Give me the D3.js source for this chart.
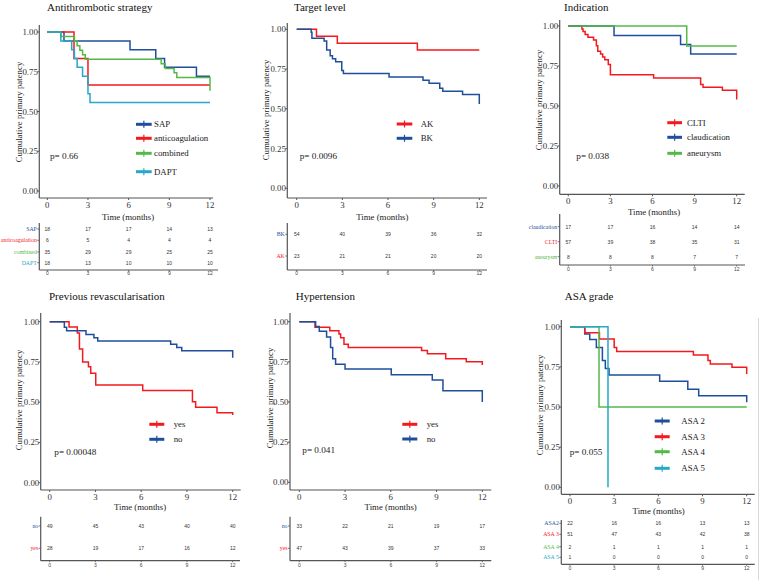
<!DOCTYPE html>
<html><head><meta charset="utf-8">
<script src="https://cdn.jsdelivr.net/npm/d3@7"></script>
<style>body{margin:0;background:#fff}svg{display:block}</style>
</head><body>
<svg id="c" width="761" height="580"></svg>
<script>
// ---------- DATA ----------
const timeTicks = [0, 3, 6, 9, 12];
const survTicks = [0, 0.25, 0.5, 0.75, 1];
const tickLabels = ["0.00", "0.25", "0.50", "0.75", "1.00"];
const panelTitles = ["Antithrombotic strategy", "Target level", "Indication", "Previous revascularisation", "Hypertension", "ASA grade"];
const pValues = ["p= 0.66", "p= 0.0096", "p= 0.038", "p= 0.00048", "p= 0.041", "p= 0.055"];

// Panel 1: antithrombotic strategy
const groups1 = ["SAP", "anticoagulation", "combined", "DAPT"];
const curveSAP = [[0,1],[1.23,0.944],[6.1,0.889],[8.0,0.833],[8.65,0.778],[11.0,0.722],[12,0.722]];
const curveAnticoag = [[0,1],[1.97,0.833],[3.0,0.667],[12,0.667]];
const curveCombined = [[0,1],[1.0,0.971],[2.0,0.943],[2.2,0.914],[2.4,0.886],[2.6,0.857],[2.8,0.829],[8.4,0.80],[8.7,0.771],[9.35,0.743],[9.55,0.714],[12,0.63]];
const curveDAPT = [[0,1],[1.0,0.944],[1.8,0.889],[2.0,0.833],[2.2,0.778],[2.6,0.722],[3.0,0.611],[3.15,0.556],[12,0.556]];
const riskSAP = [18, 17, 17, 14, 13];
const riskAnticoag = [6, 5, 4, 4, 4];
const riskCombined = [35, 29, 29, 25, 25];
const riskDAPT = [18, 13, 10, 10, 10];

// Panel 2: target level
const groups2 = ["AK", "BK"];
const curveAK = [[0,1],[1.3,0.957],[2.67,0.913],[7.93,0.87],[12,0.87]];
const curveBK = [[0,1],[0.95,0.981],[1.0,0.944],[1.8,0.926],[1.97,0.87],[2.2,0.833],[2.35,0.815],[2.56,0.796],[2.96,0.741],[3.07,0.722],[6.07,0.70],[8.3,0.68],[8.7,0.66],[9.4,0.63],[9.6,0.61],[10.9,0.59],[12,0.53]];
const riskTableRows2 = ["BK", "AK"];
const riskBK = [54, 40, 39, 36, 32];
const riskAK = [23, 21, 21, 20, 20];

// Panel 3: indication
const groups3 = ["CLTI", "claudication", "aneurysm"];
const curveCLTI = [[0,1],[0.97,0.982],[1.05,0.965],[1.2,0.947],[1.4,0.93],[1.8,0.912],[2.0,0.877],[2.1,0.842],[2.3,0.825],[2.45,0.807],[2.6,0.789],[2.85,0.76],[3.0,0.695],[6.08,0.675],[9.43,0.635],[9.6,0.617],[10.98,0.598],[12,0.54]];
const curveClaud = [[0,1],[3.26,0.941],[8.0,0.885],[8.72,0.825],[12,0.825]];
const curveAneur = [[0,1],[8.44,0.875],[12,0.875]];
const riskTableRows3 = ["claudication", "CLTI", "aneurysm"];
const riskClaud = [17, 17, 16, 14, 14];
const riskCLTI = [57, 39, 38, 35, 31];
const riskAneur = [8, 8, 8, 7, 7];

// Panel 4: previous revascularisation
const groups4 = ["yes", "no"];
const curveRevYes = [[0,1],[1.27,0.967],[1.81,0.93],[1.95,0.83],[2.16,0.75],[2.54,0.72],[2.69,0.68],[3.02,0.607],[6.1,0.573],[9.36,0.503],[9.57,0.469],[10.97,0.435],[12,0.42]];
const curveRevNo = [[0,1],[0.96,0.965],[1.11,0.944],[2.38,0.92],[2.9,0.90],[3.15,0.88],[7.93,0.86],[8.33,0.84],[8.66,0.82],[12,0.776]];
const riskTableRows4 = ["no", "yes"];
const riskRevNo = [49, 45, 43, 40, 40];
const riskRevYes = [28, 19, 17, 16, 12];

// Panel 5: hypertension
const groups5 = ["yes", "no"];
const curveHtYes = [[0,1],[1.03,0.965],[2.0,0.944],[2.6,0.923],[2.71,0.90],[2.93,0.86],[3.21,0.84],[8.02,0.82],[8.4,0.80],[9.6,0.77],[10.95,0.75],[12,0.73]];
const curveHtNo = [[0,1],[1.07,0.97],[1.31,0.94],[1.79,0.905],[2.05,0.84],[2.19,0.77],[2.38,0.735],[3.0,0.705],[6.03,0.67],[8.72,0.637],[9.42,0.57],[12,0.50]];
const riskTableRows5 = ["no", "yes"];
const riskHtNo = [33, 22, 21, 19, 17];
const riskHtYes = [47, 43, 39, 37, 33];

// Panel 6: ASA grade
const groups6 = ["ASA 2", "ASA 3", "ASA 4", "ASA 5"];
const curveASA2 = [[0,1],[1.0,0.955],[1.34,0.92],[1.79,0.87],[2.2,0.79],[2.4,0.74],[2.65,0.70],[6.09,0.66],[8.0,0.61],[8.74,0.57],[12,0.53]];
const curveASA3 = [[0,1],[1.0,0.963],[2.0,0.923],[3.0,0.87],[3.17,0.845],[8.38,0.824],[9.37,0.79],[9.53,0.768],[11.0,0.747],[12,0.705]];
const curveASA4 = [[0,1],[1.97,0.5],[12,0.5]];
const curveASA5 = [[0,1],[2.58,0]];
const riskTableRows6 = ["ASA2", "ASA 3", "ASA 4", "ASA 5"];
const riskASA2 = [22, 16, 16, 13, 13];
const riskASA3 = [51, 47, 43, 42, 38];
const riskASA4 = [2, 1, 1, 1, 1];
const riskASA5 = [1, 0, 0, 0, 0];

// ---------- STYLE ----------
const BLUE = "#1f4f9c", RED = "#f31a1f", GREEN = "#55b948", CYAN = "#27a8c8";
const SERIF = '"Liberation Serif"';
const SANS = '"Liberation Sans"';

const panels = [
  { title: panelTitles[0], p: pValues[0],
    series: [{name: groups1[0], data: curveSAP, color: BLUE}, {name: groups1[1], data: curveAnticoag, color: RED}, {name: groups1[2], data: curveCombined, color: GREEN}, {name: groups1[3], data: curveDAPT, color: CYAN}],
    table: [{name: "SAP", vals: riskSAP, color: BLUE}, {name: "anticoagulation", vals: riskAnticoag, color: RED}, {name: "combined", vals: riskCombined, color: GREEN}, {name: "DAPT", vals: riskDAPT, color: CYAN}],
    L: {x0:47.3, x12:210, y1:32, y0:191, axisX:39.3, axisY:198, axisTop:25, axisRight:213, title:[47,10.5], ylab:[22,112], xlab:[128,219.5], leg:{x1:136,x2:151.7,tx:154,ys:[124.3,138.3,153.3,171.7]}, pp:[50,159], tb:{rows:[229,240.3,252,262.7], top:223, bottom:270, right:218, tickY:275}} },
  { title: panelTitles[1], p: pValues[1],
    series: [{name: groups2[0], data: curveAK, color: RED}, {name: groups2[1], data: curveBK, color: BLUE}],
    table: [{name: riskTableRows2[0], vals: riskBK, color: BLUE}, {name: riskTableRows2[1], vals: riskAK, color: RED}],
    L: {x0:296.7, x12:479.3, y1:29.3, y0:188.3, axisX:287.3, axisY:198, axisTop:23, axisRight:487, title:[294,10.5], ylab:[268.5,110], xlab:[382.3,219.5], leg:{x1:396.7,x2:412.3,tx:420.7,ys:[124,138.3]}, pp:[299.7,159], tb:{rows:[234.3,256], top:223, bottom:270, right:487, tickY:275}} },
  { title: panelTitles[2], p: pValues[2],
    series: [{name: groups3[0], data: curveCLTI, color: RED}, {name: groups3[1], data: curveClaud, color: BLUE}, {name: groups3[2], data: curveAneur, color: GREEN}],
    table: [{name: riskTableRows3[0], vals: riskClaud, color: BLUE}, {name: riskTableRows3[1], vals: riskCLTI, color: RED}, {name: riskTableRows3[2], vals: riskAneur, color: GREEN}],
    L: {x0:568.3, x12:736.7, y1:26, y0:186, axisX:559.7, axisY:194.3, axisTop:20, axisRight:744.7, title:[564,10.5], ylab:[541.5,100], xlab:[654,214.5], leg:{x1:667.3,x2:682,tx:687,ys:[122.7,137.3,153.3]}, pp:[576.3,159], tb:{rows:[226.7,241.7,256.7], top:214, bottom:265, right:745, tickY:271}} },
  { title: panelTitles[3], p: pValues[3],
    series: [{name: groups4[0], data: curveRevYes, color: RED}, {name: groups4[1], data: curveRevNo, color: BLUE}],
    table: [{name: riskTableRows4[0], vals: riskRevNo, color: BLUE}, {name: riskTableRows4[1], vals: riskRevYes, color: RED}],
    L: {x0:49.7, x12:232.7, y1:321.7, y0:482.7, axisX:40.7, axisY:490, axisTop:313, axisRight:240.7, title:[49,300], ylab:[22,400], xlab:[140,510], leg:{x1:149.3,x2:164.3,tx:173.7,ys:[424.3,439.3]}, pp:[54.3,455], tb:{rows:[526,548.3], top:516.7, bottom:560.7, right:240, tickY:566.5}} },
  { title: panelTitles[4], p: pValues[4],
    series: [{name: groups5[0], data: curveHtYes, color: RED}, {name: groups5[1], data: curveHtNo, color: BLUE}],
    table: [{name: riskTableRows5[0], vals: riskHtNo, color: BLUE}, {name: riskTableRows5[1], vals: riskHtYes, color: RED}],
    L: {x0:299.3, x12:482.3, y1:321.7, y0:482.3, axisX:290, axisY:490, axisTop:313, axisRight:491.3, title:[295.7,300], ylab:[272.5,398], xlab:[390.7,510], leg:{x1:402.3,x2:417.3,tx:426.7,ys:[424.3,439]}, pp:[302.3,452.5], tb:{rows:[526,548.3], top:516.7, bottom:560.7, right:491.3, tickY:566.5}} },
  { title: panelTitles[5], p: pValues[5],
    series: [{name: groups6[0], data: curveASA2, color: BLUE}, {name: groups6[1], data: curveASA3, color: RED}, {name: groups6[2], data: curveASA4, color: GREEN}, {name: groups6[3], data: curveASA5, color: CYAN}],
    table: [{name: riskTableRows6[0], vals: riskASA2, color: BLUE}, {name: riskTableRows6[1], vals: riskASA3, color: RED}, {name: riskTableRows6[2], vals: riskASA4, color: GREEN}, {name: riskTableRows6[3], vals: riskASA5, color: CYAN}],
    L: {x0:570, x12:746.7, y1:326.7, y0:487.3, axisX:561.3, axisY:494.3, axisTop:320, axisRight:754.7, title:[564.7,300], ylab:[542.5,405], xlab:[658.7,514], leg:{x1:654.7,x2:669.7,tx:681.3,ys:[421,436.7,451.7,468.3]}, pp:[569.7,455], tb:{rows:[523.3,534.3,546.7,557.3], top:520, bottom:564.3, right:754.7, tickY:570}} }
];

const svg = d3.select("#c");
const AXC = "#555";

function txt(g, x, y, s, size, fam, fill, anchor) {
  return g.append("text").attr("x", x).attr("y", y).text(s)
    .style("font-family", fam).style("font-size", size + "px")
    .attr("fill", fill).attr("text-anchor", anchor || "start");
}

// faint right border line of last panel
svg.append("line").attr("x1", 758.5).attr("x2", 758.5).attr("y1", 318).attr("y2", 580)
  .attr("stroke", "#d8d8d8").attr("stroke-width", 1);

panels.forEach(P => {
  const L = P.L;
  const g = svg.append("g");
  const x = d3.scaleLinear().domain([0, 12]).range([L.x0, L.x12]);
  const y = d3.scaleLinear().domain([0, 1]).range([L.y0, L.y1]);

  txt(g, L.title[0], L.title[1], P.title, 11, SERIF, "#111");

  g.append("line").attr("x1", L.axisX).attr("x2", L.axisX).attr("y1", L.axisTop).attr("y2", L.axisY)
    .attr("stroke", AXC).attr("stroke-width", 1.2);
  g.append("line").attr("x1", L.axisX).attr("x2", L.axisRight).attr("y1", L.axisY).attr("y2", L.axisY)
    .attr("stroke", AXC).attr("stroke-width", 1.2);

  survTicks.forEach((v, i) => {
    g.append("line").attr("x1", L.axisX - 2).attr("x2", L.axisX).attr("y1", y(v)).attr("y2", y(v))
      .attr("stroke", AXC).attr("stroke-width", 1);
    txt(g, L.axisX - 1.5, y(v) + 3, tickLabels[i], 8.8, SERIF, "#333", "end");
  });
  timeTicks.forEach(t => {
    g.append("line").attr("x1", x(t)).attr("x2", x(t)).attr("y1", L.axisY).attr("y2", L.axisY + 2)
      .attr("stroke", AXC).attr("stroke-width", 1);
    txt(g, x(t), L.axisY + 10, t, 8.8, SERIF, "#333", "middle");
  });

  txt(g, 0, 0, "Cumulative primary patency", 8.8, SERIF, "#222", "middle")
    .attr("transform", `translate(${L.ylab[0]},${L.ylab[1]}) rotate(-90)`);
  txt(g, L.xlab[0], L.xlab[1], "Time (months)", 8.8, SERIF, "#222", "middle");

  const line = d3.line().x(d => x(d[0])).y(d => y(d[1])).curve(d3.curveStepAfter);
  P.series.forEach(s => {
    g.append("path").attr("d", line(s.data)).attr("fill", "none")
      .attr("stroke", s.color).attr("stroke-width", 1.5);
  });

  P.series.forEach((s, i) => {
    const ly = L.leg.ys[i];
    g.append("line").attr("x1", L.leg.x1).attr("x2", L.leg.x2).attr("y1", ly).attr("y2", ly)
      .attr("stroke", s.color).attr("stroke-width", 3);
    const mx = (L.leg.x1 + L.leg.x2) / 2;
    g.append("line").attr("x1", mx).attr("x2", mx).attr("y1", ly - 3.5).attr("y2", ly + 3.5)
      .attr("stroke", s.color).attr("stroke-width", 1.2);
    txt(g, L.leg.tx, ly + 3, s.name, 8.8, SERIF, "#222");
  });

  txt(g, L.pp[0], L.pp[1], P.p, 9.2, SERIF, "#222");

  const T = L.tb;
  g.append("line").attr("x1", L.axisX).attr("x2", L.axisX).attr("y1", T.top).attr("y2", T.bottom)
    .attr("stroke", AXC).attr("stroke-width", 1.2);
  g.append("line").attr("x1", L.axisX).attr("x2", T.right).attr("y1", T.bottom).attr("y2", T.bottom)
    .attr("stroke", AXC).attr("stroke-width", 1.2);
  P.table.forEach((r, i) => {
    const ry = T.rows[i];
    g.append("line").attr("x1", L.axisX - 2).attr("x2", L.axisX).attr("y1", ry).attr("y2", ry)
      .attr("stroke", AXC).attr("stroke-width", 0.8);
    txt(g, L.axisX - 2.5, ry + 2, r.name, 5.8, SERIF, r.color, "end");
    r.vals.forEach((v, j) => {
      txt(g, x(timeTicks[j]), ry + 1.8, v, 5, SANS, "#333", "middle");
    });
  });
  timeTicks.forEach(t => {
    g.append("line").attr("x1", x(t)).attr("x2", x(t)).attr("y1", T.bottom).attr("y2", T.bottom + 1.5)
      .attr("stroke", AXC).attr("stroke-width", 0.8);
    txt(g, x(t), T.tickY, t, 5, SANS, "#444", "middle");
  });
});
</script>
</body></html>
